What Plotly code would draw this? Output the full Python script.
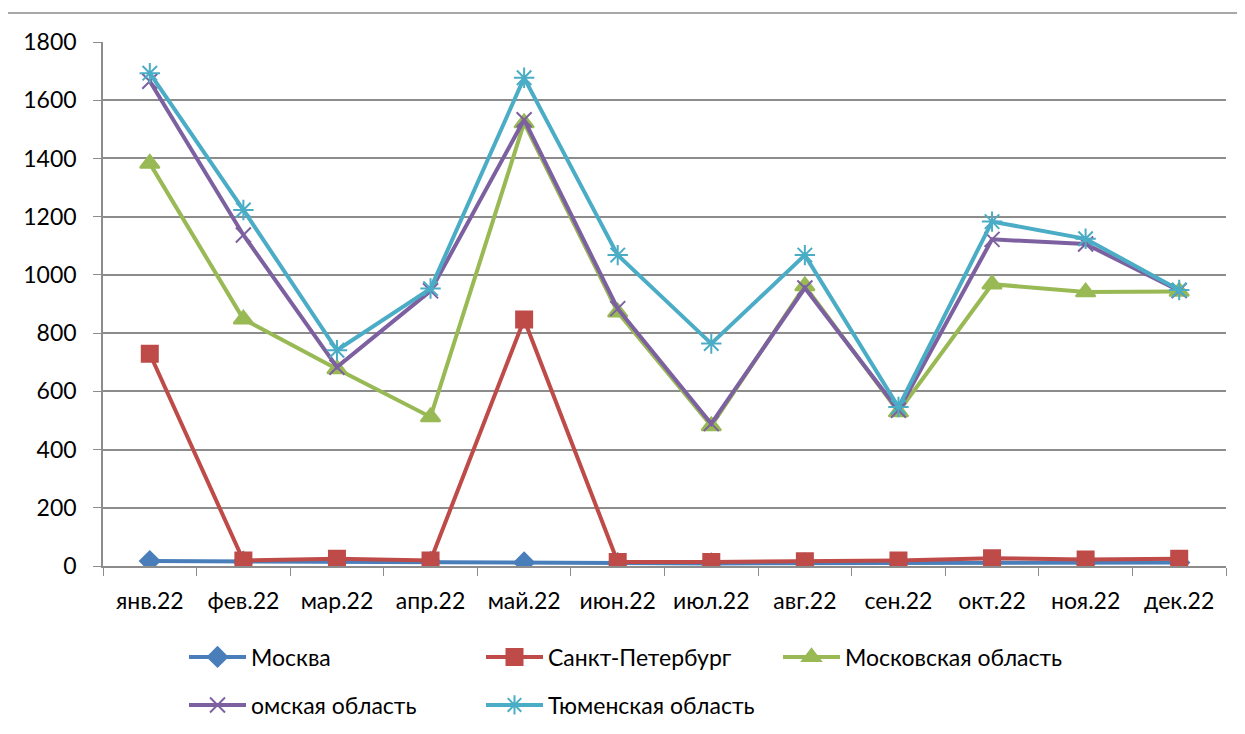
import plotly.graph_objects as go

months = ["янв.22", "фев.22", "мар.22", "апр.22", "май.22", "июн.22",
          "июл.22", "авг.22", "сен.22", "окт.22", "ноя.22", "дек.22"]

moskva = [17, 15, 14, 14, 12, 10, 9, 9, 10, 11, 10, 12]
spb = [729, 19, 25, 19, 847, 14, 14, 16, 19, 27, 22, 25]
mosk_obl = [1383, 848, 677, 512, 1522, 872, 481, 962, 529, 968, 941, 943]
omsk = [1665, 1137, 683, 945, 1533, 884, 489, 955, 535, 1122, 1106, 946]
tyumen = [1693, 1223, 741, 953, 1677, 1068, 764, 1068, 546, 1183, 1124, 948]

series = [
    ("Москва", moskva, "#4A7EBB", "diamond", 15, "legend"),
    ("Санкт-Петербург", spb, "#BE4B48", "square", 16, "legend"),
    ("Московская область", mosk_obl, "#98B954", "triangle-up", 17, "legend"),
    ("омская область", omsk, "#7D60A0", "x-thin", 15, "legend2"),
    ("Тюменская область", tyumen, "#4BACC6", "asterisk", 17, "legend2"),
]

fig = go.Figure()
for name, vals, color, sym, size, lg in series:
    fig.add_trace(go.Scatter(
        x=months, y=vals, name=name, mode="lines+markers",
        line=dict(color=color, width=4),
        marker=dict(symbol=sym, size=size, color=color,
                    line=dict(color=color, width=2)),
        legend=lg,
    ))

W, H = 1237, 726
font_family = "Lato, 'Open Sans', sans-serif"
legend_common = dict(orientation="h", xref="container", yref="container",
                     xanchor="left", yanchor="middle",
                     font=dict(size=23), entrywidth=225, entrywidthmode="pixels",
                     itemwidth=57, bgcolor="rgba(0,0,0,0)")
fig.update_layout(
    width=W, height=H,
    margin=dict(l=95, r=19, t=34, b=168, autoexpand=False),
    plot_bgcolor="white", paper_bgcolor="white",
    font=dict(family=font_family, size=23, color="black"),
    showlegend=True,
    legend=dict(x=176 / W, y=1 - 649 / H, **legend_common),
    legend2=dict(x=176 / W, y=1 - 697 / H, **legend_common),
    xaxis=dict(
        type="category", range=[-0.5, len(months) - 0.5],
        showgrid=False, showline=True, linecolor="#8C8C8C",
        linewidth=1.5, ticks="outside", ticklen=8, tickcolor="#8C8C8C",
        tickson="boundaries", tickfont=dict(size=23),
        ticklabelstandoff=14,
    ),
    yaxis=dict(
        range=[0, 1800], dtick=200, showgrid=True, gridcolor="#8C8C8C",
        gridwidth=1.5, showline=True, linecolor="#8C8C8C", linewidth=1.5,
        ticks="outside", ticklen=8, tickcolor="#8C8C8C", zeroline=False,
        tickfont=dict(size=23), ticklabelstandoff=12,
    ),
    shapes=[dict(type="rect", xref="paper", yref="paper",
                 x0=(-2 - 95) / 1123, x1=1.05, y0=-0.4, y1=(558 - 5) / 524,
                 line=dict(color="#8C8C8C", width=1.5), layer="below")],
)

fig.write_html("out.html")
